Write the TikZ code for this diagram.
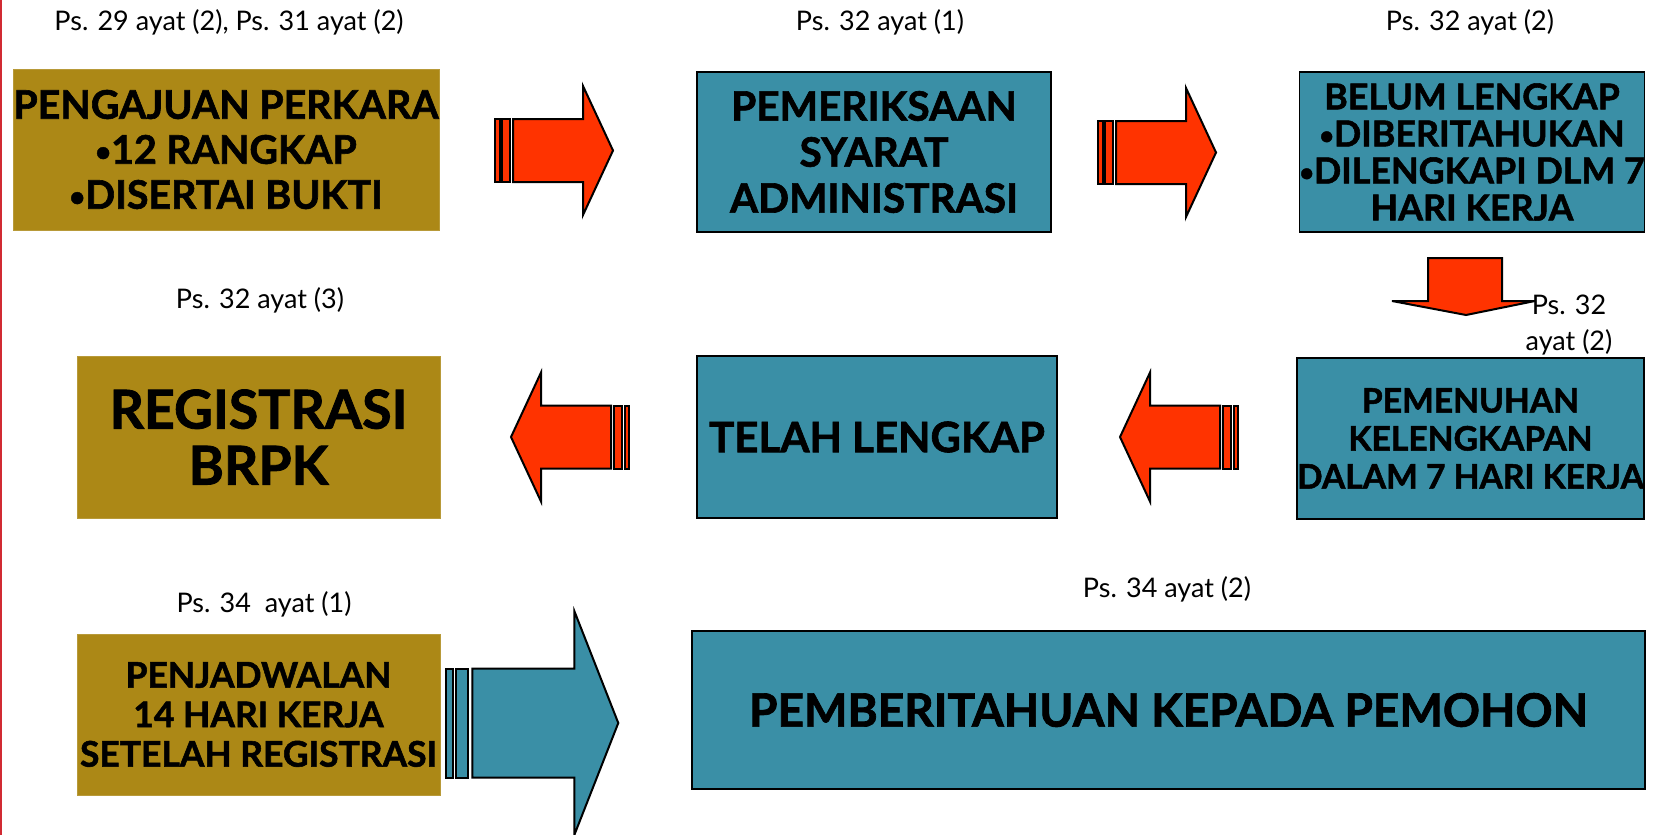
\documentclass[tikz,border=0pt]{standalone}
\usepackage{fontspec}
\setmainfont{Lato}[BoldFeatures={FakeBold=1.5}]
\usetikzlibrary{positioning}

\definecolor{boxgold}{HTML}{AC8816}
\definecolor{boxteal}{HTML}{3A8FA6}
\definecolor{arrowred}{HTML}{FF3300}
\definecolor{edgered}{HTML}{D12A33}

\newcommand{\butir}{\raisebox{0.12ex}{\scalebox{0.7}{•}}}

\begin{document}
\begin{tikzpicture}[x=0.5pt,y=-0.5pt]
  \tikzset{goldbox/.style = {fill=boxgold,draw=boxgold!85!white,line width=0.5pt,inner sep=0pt,align=center}}
  \tikzset{tealbox/.style = {fill=boxteal,draw=black,line width=0.9pt,inner sep=0pt,align=center}}
  \tikzset{pasal/.style = {inner sep=0pt,align=center,font=\fontsize{13.5}{18}\selectfont}}
  \tikzset{arrowline/.style = {draw=black,line width=1pt,line join=miter}}
  \tikzset{stripearrow/.pic = {
      \draw[arrowline,pic actions] (0,-31.5) rectangle (4.5,31.5);
      \draw[arrowline,pic actions] (7,-31.5) rectangle (15,31.5);
      \draw[arrowline,pic actions] (18,-31.5) -- (88,-31.5) -- (88,-64.5) -- (118,0)
        -- (88,64.5) -- (88,31.5) -- (18,31.5) -- cycle;
  }}

  \path[use as bounding box,fill=white] (0,0) rectangle (1654,835);
  \draw[edgered,line width=1.2pt] (1.2,0) -- (1.2,835);

% boxes
\node[goldbox,minimum width=213pt,minimum height=80.5pt,font=\bfseries\fontsize{19.7}{22.5}\selectfont] (pengajuan) at (226,149.5) {PENGAJUAN PERKARA\\\butir12 RANGKAP\\\butir DISERTAI BUKTI};
\node[tealbox,minimum width=177pt,minimum height=80pt,font=\bfseries\fontsize{20.3}{23}\selectfont] (pemeriksaan) at (874,152) {PEMERIKSAAN\\SYARAT\\ADMINISTRASI};
\node[tealbox,minimum width=171pt,minimum height=80pt,font=\bfseries\fontsize{17.9}{18.5}\selectfont] (belum) at (1472,152) {BELUM LENGKAP\\\butir DIBERITAHUKAN\\\butir DILENGKAPI DLM 7\\HARI KERJA};
\node[goldbox,minimum width=181.5pt,minimum height=81pt,font=\bfseries\fontsize{26.8}{28}\selectfont] (registrasi) at (258.5,437) {REGISTRASI\\BRPK};
\node[tealbox,minimum width=180pt,minimum height=81pt,font=\bfseries\fontsize{21}{24}\selectfont] (lengkap) at (877,437) {TELAH LENGKAP};
\node[tealbox,minimum width=172.5pt,minimum height=80.5pt,font=\bfseries\fontsize{16.8}{19}\selectfont] (pemenuhan) at (1470.5,438.5) {PEMENUHAN\\KELENGKAPAN\\DALAM 7 HARI KERJA};
\node[goldbox,minimum width=181.5pt,minimum height=80.5pt,font=\bfseries\fontsize{17.7}{19.75}\selectfont] (penjadwalan) at (258.5,714.5) {PENJADWALAN\\14 HARI KERJA\\SETELAH REGISTRASI};
\node[tealbox,minimum width=476.5pt,minimum height=79pt,font=\bfseries\fontsize{23}{26}\selectfont] (pemberitahuan) at (1168.5,710) {PEMBERITAHUAN KEPADA PEMOHON};

% arrows between the boxes
\pic[fill=arrowred] at (495,150.5) {stripearrow};
\pic[fill=arrowred] at (1098,152.5) {stripearrow};
\draw[arrowline,fill=arrowred] (1428,258) -- (1502,258) -- (1502,301) -- (1535,301) -- (1466,315) -- (1392,301) -- (1428,301) -- cycle;
\pic[fill=arrowred,xscale=-1] at (1238,437) {stripearrow};
\pic[fill=arrowred,xscale=-1] at (629,437) {stripearrow};
\pic[fill=boxteal,xscale=1.46,yscale=1.73] at (446,723) {stripearrow};

% pasal labels
\node[pasal,anchor=base] (ps1) at (229,30) {Ps. 29 ayat (2), Ps. 31 ayat (2)};
\node[pasal,anchor=base] (ps2) at (880,30) {Ps. 32 ayat (1)};
\node[pasal,anchor=base] (ps3) at (1470,30) {Ps. 32 ayat (2)};
\node[pasal] (ps4) at (1569,325) {Ps. 32\\ayat (2)};
\node[pasal,anchor=base] (ps5) at (260,308) {Ps. 32 ayat (3)};
\node[pasal,anchor=base] (ps6) at (264,612) {Ps. 34~ ayat (1)};
\node[pasal,anchor=base] (ps7) at (1167,597) {Ps. 34 ayat (2)};

\end{tikzpicture}
\end{document}
